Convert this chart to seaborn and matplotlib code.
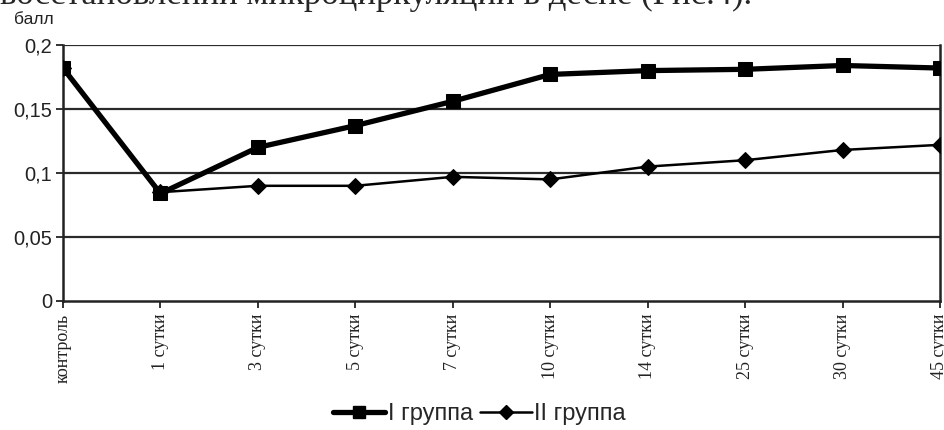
import seaborn as sns
import pandas as pd
import matplotlib.pyplot as plt
from matplotlib.lines import Line2D

# data
days = ["контроль", "1 сутки", "3 сутки", "5 сутки", "7 сутки",
        "10 сутки", "14 сутки", "25 сутки", "30 сутки", "45 сутки"]
group_1 = [0.182, 0.084, 0.120, 0.137, 0.156, 0.177, 0.180, 0.181, 0.184, 0.182]
group_2 = [0.182, 0.085, 0.090, 0.090, 0.097, 0.095, 0.105, 0.110, 0.118, 0.122]
y_ticks = [0, 0.05, 0.1, 0.15, 0.2]
y_labels = ["0", "0,05", "0,1", "0,15", "0,2"]

sns.set_theme(style="white")
plt.rcParams['font.family'] = ['Liberation Sans', 'DejaVu Sans']
serif = ['Liberation Serif', 'DejaVu Serif']

fig = plt.figure(figsize=(9.44, 4.30), dpi=100)
ax = fig.add_axes([63 / 944, 1 - 301 / 430, (940 - 63) / 944, (301 - 45) / 430])

df1 = pd.DataFrame({"day": days, "value": group_1})
df2 = pd.DataFrame({"day": days, "value": group_2})

sns.lineplot(data=df2, x="day", y="value", ax=ax, color="black", linewidth=1.8,
             marker="D", markersize=8, markeredgecolor="black", sort=False, zorder=3)
sns.lineplot(data=df1, x="day", y="value", ax=ax, color="black", linewidth=3.8,
             marker="s", markersize=10, markeredgecolor="black", sort=False, zorder=4)

ax.set_xlim(0, len(days) - 1)
ax.set_ylim(0, 0.2)
ax.set_yticks(y_ticks)
ax.set_yticklabels(y_labels, fontsize=14.5, color="#222222")
for y in y_ticks[1:]:
    ax.axhline(y, color="#2a2a2a", linewidth=1.6, zorder=1)

ax.set_xticks(range(len(days)))
ax.set_xticklabels(days, rotation=90, fontsize=13, family=serif,
                   color="#222222", va="top")
ax.tick_params(axis="both", which="both", direction="out", length=5, width=1.3,
               color="#222222", left=True, bottom=True, pad=3)
ax.tick_params(axis="x", pad=4)

for side in ["left", "bottom", "right"]:
    ax.spines[side].set_color("#222222")
    ax.spines[side].set_linewidth(1.8)
ax.spines["top"].set_visible(False)
ax.set_xlabel("")
ax.set_ylabel("")
if ax.get_legend():
    ax.get_legend().remove()

fig.text(14 / 944, 1 - 20 / 430, "балл", fontsize=12.5, color="#222222", va="center")

# clipped line of body text above the chart
fig.text(0.0, 1 - 4 / 430, "восстановлении микроциркуляции в десне (Рис.4).",
         fontsize=25, family=serif, va="baseline", ha="left")

handles = [
    Line2D([], [], color="black", linewidth=3.8, marker="s", markersize=9),
    Line2D([], [], color="black", linewidth=1.8, marker="D", markersize=7),
]
fig.legend(handles, ["I группа", "II группа"], loc="center", bbox_to_anchor=(0.508, 1 - 414 / 430),
           ncol=2, frameon=False, fontsize=17, handlelength=2.2, handletextpad=0.1,
           columnspacing=0.3, borderpad=0)

fig.savefig("out.png", dpi=100)
